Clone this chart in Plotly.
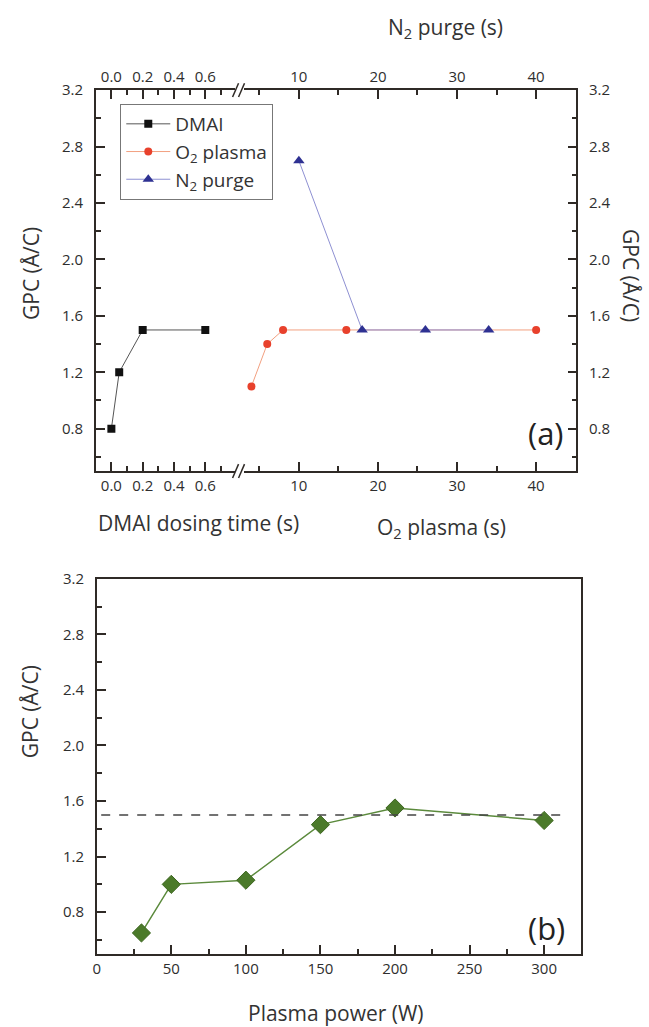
import plotly.graph_objects as go

# ---------------- data ----------------
dmai_time = [0.0, 0.05, 0.2, 0.6]
dmai_gpc = [0.8, 1.2, 1.5, 1.5]

o2_time = [4, 6, 8, 16, 40]
o2_gpc = [1.1, 1.4, 1.5, 1.5, 1.5]

n2_time = [10, 18, 26, 34]
n2_gpc = [2.7, 1.5, 1.5, 1.5]

power = [30, 50, 100, 150, 200, 300]
power_gpc = [0.65, 1.0, 1.03, 1.43, 1.55, 1.46]

ref_gpc = 1.5

W, H = 649, 1027
FONT = "Open Sans"
AX = "#2f2a26"
TXT = "#2e2e2e"
NB = "\u00a0\u00a0"


def px(x):
    return x / W


def py(y):
    return 1 - y / H


fig = go.Figure()

fig.add_trace(go.Scatter(
    x=dmai_time, y=dmai_gpc, xaxis="x", yaxis="y", name="DMAI",
    mode="lines+markers",
    line=dict(color="#555555", width=1),
    marker=dict(symbol="square", size=8, color="#111111")))
fig.add_trace(go.Scatter(
    x=o2_time, y=o2_gpc, xaxis="x2", yaxis="y", name="O<sub>2</sub> plasma",
    mode="lines+markers",
    line=dict(color="#f2a080", width=1),
    marker=dict(symbol="circle", size=8, color="#e8412c")))
fig.add_trace(go.Scatter(
    x=n2_time, y=n2_gpc, xaxis="x4", yaxis="y", name="N<sub>2</sub> purge",
    mode="lines+markers",
    line=dict(color="#8e90d2", width=1),
    marker=dict(symbol="triangle-up", size=10, color="#2e3192")))
# invisible helpers so the overlaying axes are drawn
fig.add_trace(go.Scatter(x=dmai_time, y=dmai_gpc, xaxis="x3", yaxis="y",
                         mode="markers", marker=dict(opacity=0), showlegend=False,
                         hoverinfo="skip"))
fig.add_trace(go.Scatter(x=o2_time, y=o2_gpc, xaxis="x2", yaxis="y2",
                         mode="markers", marker=dict(opacity=0), showlegend=False,
                         hoverinfo="skip"))

fig.add_trace(go.Scatter(
    x=power, y=power_gpc, xaxis="x5", yaxis="y5", showlegend=False,
    mode="lines+markers",
    line=dict(color="#5b8a3c", width=1.5),
    marker=dict(symbol="diamond", size=14, color="#4b7a2a",
                line=dict(color="#3d6620", width=1))))

common = dict(showline=True, linecolor=AX, linewidth=1.6, ticks="inside",
              tickcolor=AX, tickwidth=2, ticklen=9, layer="above traces")
minor = dict(ticks="inside", ticklen=5, tickcolor=AX, tickwidth=2)

ya = (py(465), py(80))
yb = (py(953), py(574))
xl = (px(92.3), px(232))
xr = (px(241), px(576))
xb = (px(93.3), px(581))

yrange = [0.5, 3.2]
ycommon = dict(common, range=yrange, tickmode="linear", tick0=0.8, dtick=0.4,
               tickformat=".1f",
               minor=dict(minor, dtick=0.2, tick0=0.8))

fig.update_layout(
    width=W, height=H, margin=dict(l=0, r=0, t=0, b=0),
    paper_bgcolor="white", plot_bgcolor="white",
    font=dict(family=FONT, color=TXT, size=15),
    xaxis=dict(common, domain=xl, anchor="y", range=[-0.1, 0.787],
               tickmode="linear", tick0=0, dtick=0.2, tickformat=".1f",
               minor=dict(minor, dtick=0.1, tick0=0)),
    xaxis3=dict(common, overlaying="x", side="top", anchor="y",
                range=[-0.1, 0.787], tickmode="linear", tick0=0, dtick=0.2,
                tickformat=".1f",
                minor=dict(minor, dtick=0.1, tick0=0)),
    xaxis2=dict(common, domain=xr, anchor="y", range=[3.0, 45.1],
                tickmode="linear", tick0=0, dtick=10,
                minor=dict(minor, dtick=5, tick0=0)),
    xaxis4=dict(common, overlaying="x2", side="top", anchor="y",
                range=[3.0, 45.1], tickmode="linear", tick0=0, dtick=10,
                minor=dict(minor, dtick=5, tick0=0)),
    yaxis=dict(ycommon, domain=ya, anchor="x", ticksuffix=NB),
    yaxis2=dict(ycommon, overlaying="y", side="right", anchor="x2",
                tickprefix=NB),
    xaxis5=dict(common, domain=xb, anchor="y5", range=[0, 325],
                tickmode="linear", tick0=0, dtick=50, mirror=True,
                minor=dict(minor, dtick=25, tick0=0)),
    yaxis5=dict(ycommon, domain=yb, anchor="x5", mirror=True, ticksuffix=NB),
    legend=dict(x=px(117), y=py(94), xanchor="left", yanchor="top",
                bordercolor="#777777", borderwidth=1, bgcolor="white",
                font=dict(family=FONT, size=19, color="#333333"),
                itemwidth=44, tracegroupgap=0),
    showlegend=True,
)

# reference line in (b)
fig.add_shape(type="line", xref="x5", yref="y5", x0=3, x1=314,
              y0=ref_gpc, y1=ref_gpc,
              line=dict(color="#444444", width=1.5, dash="dash"))

# axis-break marks
for cy in (465, 80):
    for cx in (233, 239):
        fig.add_shape(type="line", xref="paper", yref="paper",
                      x0=px(cx - 3), x1=px(cx + 3), y0=py(cy + 7), y1=py(cy - 7),
                      line=dict(color=AX, width=1.5))


def ann(text, x, y, size=21, angle=0, color="#333333"):
    fig.add_annotation(text=text, x=px(x), y=py(y), xref="paper", yref="paper",
                       showarrow=False, textangle=angle,
                       font=dict(family=FONT, size=size, color=color),
                       xanchor="center", yanchor="middle")


ann("N<sub>2</sub> purge (s)", 444, 17)
ann("DMAI dosing time (s)", 196, 518)
ann("O<sub>2</sub> plasma (s)", 440, 523)
ann("GPC (Å/C)", 27, 265, angle=-90)
ann("GPC (Å/C)", 631, 267, angle=90)
ann("(a)", 545, 427, size=31, color="#222222")
ann("GPC (Å/C)", 27, 708, angle=-90)
ann("Plasma power (W)", 334, 1013)
ann("(b)", 546, 927, size=31, color="#222222")

fig.write_html("out.html")
